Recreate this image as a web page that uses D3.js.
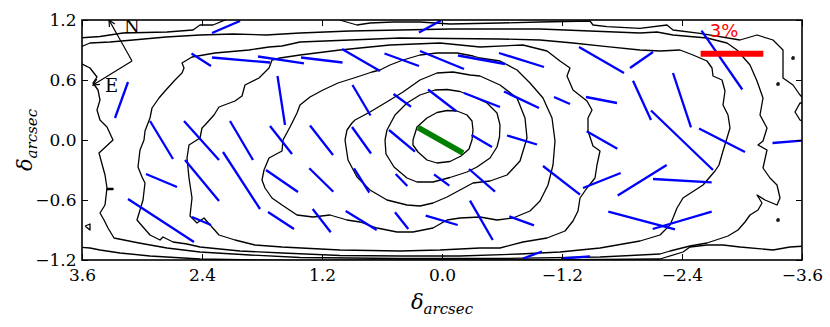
<!DOCTYPE html>
<html>
<head>
<meta charset="utf-8">
<script src="https://cdn.jsdelivr.net/npm/d3@7"></script>
<style>
	body { margin: 0; background: #fff; }
	text { font-family: "DejaVu Serif", serif; }
</style>
</head>
<body>
<div id="chart-area"></div>
<script>

// polarisation map: intensity contours + pol. vectors (offsets in arcsec)

let xTicks = [3.6, 2.4, 1.2, 0.0, -1.2, -2.4, -3.6];
let yTicks = [-1.2, -0.6, 0.0, 0.6, 1.2];

// contour lines, [x, y] in arcsec, listed inside -> out
let contour1 = [[0.29,0],[0.25,0.13],[0.15,0.22],[0.05,0.275],[-0.05,0.295],[-0.15,0.29],[-0.25,0.25],[-0.30,0.19],[-0.31,0.10],[-0.30,0],[-0.27,-0.09],[-0.19,-0.16],[-0.08,-0.215],[0.05,-0.23],[0.15,-0.20],[0.24,-0.12],[0.29,-0.05],[0.29,0]];

let contour2 = [[0.57,0],[0.55,0.10],[0.47,0.25],[0.35,0.37],[0.22,0.45],[0.07,0.50],[-0.05,0.505],[-0.18,0.485],[-0.31,0.435],[-0.45,0.37],[-0.55,0.27],[-0.58,0.15],[-0.575,0.03],[-0.55,-0.07],[-0.48,-0.18],[-0.35,-0.27],[-0.25,-0.32],[-0.08,-0.375],[0.09,-0.42],[0.25,-0.42],[0.35,-0.38],[0.48,-0.27],[0.56,-0.14],[0.57,0]];

let contour3 = [[0.97,0],[0.95,0.10],[0.90,0.17],[0.87,0.20],[0.72,0.28],[0.52,0.40],[0.39,0.48],[0.22,0.60],[0.05,0.67],[-0.11,0.68],[-0.28,0.65],[-0.38,0.64],[-0.58,0.55],[-0.75,0.42],[-0.83,0.22],[-0.85,0.02],[-0.78,-0.21],[-0.65,-0.35],[-0.48,-0.41],[-0.31,-0.43],[-0.18,-0.50],[-0.05,-0.57],[0.09,-0.63],[0.22,-0.66],[0.35,-0.65],[0.55,-0.60],[0.72,-0.50],[0.85,-0.37],[0.94,-0.20],[0.97,0]];

let contour4 = [[1.59,0],[1.52,0.13],[1.45,0.27],[1.42,0.35],[1.32,0.43],[1.19,0.50],[1.04,0.57],[0.85,0.63],[0.70,0.68],[0.62,0.70],[0.52,0.75],[0.39,0.80],[0.22,0.85],[0.05,0.87],[-0.15,0.87],[-0.31,0.84],[-0.38,0.82],[-0.58,0.79],[-0.75,0.70],[-0.88,0.57],[-1.01,0.42],[-1.10,0.22],[-1.13,-0.01],[-1.11,-0.25],[-1.06,-0.45],[-0.98,-0.61],[-0.88,-0.71],[-0.71,-0.78],[-0.55,-0.80],[-0.38,-0.77],[-0.18,-0.78],[-0.05,-0.80],[0.09,-0.88],[0.29,-0.92],[0.45,-0.92],[0.65,-0.88],[0.82,-0.82],[0.95,-0.80],[1.12,-0.75],[1.29,-0.77],[1.45,-0.75],[1.60,-0.65],[1.70,-0.58],[1.77,-0.48],[1.80,-0.40],[1.78,-0.30],[1.73,-0.18],[1.60,-0.11],[1.59,0]];

let contour5 = [[1.62,0.82],[1.42,0.85],[1.02,0.90],[0.52,0.95],[0.02,0.97],[-0.38,0.93],[-0.81,0.95],[-1.05,0.89],[-1.18,0.79],[-1.28,0.72],[-1.25,0.64],[-1.31,0.50],[-1.45,0.39],[-1.50,0.30],[-1.46,0.22],[-1.46,0.09],[-1.51,-0.06],[-1.58,-0.11],[-1.55,-0.25],[-1.53,-0.38],[-1.45,-0.48],[-1.38,-0.58],[-1.36,-0.71],[-1.31,-0.81],[-1.23,-0.91],[-1.05,-0.98],[-0.81,-1.02],[-0.58,-1.08],[-0.38,-1.08],[0.02,-1.10],[0.42,-1.11],[1.02,-1.10],[1.60,-1.07],[1.87,-1.05],[2.07,-1.00],[2.23,-0.95],[2.38,-0.78],[2.45,-0.83],[2.52,-0.76],[2.50,-0.58],[2.53,-0.38],[2.55,-0.18],[2.53,-0.05],[2.42,0.02],[2.40,0.12],[2.37,0.15],[2.28,0.25],[2.23,0.33],[2.07,0.39],[2.00,0.44],[1.97,0.55],[1.83,0.62],[1.73,0.72],[1.70,0.80],[1.62,0.82]];

let contour6 = [[1.60,0.94],[1.73,0.93],[1.93,0.90],[2.27,0.87],[2.50,0.83],[2.60,0.77],[2.58,0.72],[2.60,0.67],[2.67,0.60],[2.77,0.49],[2.83,0.42],[2.90,0.32],[2.92,0.22],[2.97,0.09],[2.98,0],[3.02,-0.10],[3.04,-0.27],[3.00,-0.37],[2.97,-0.43],[2.99,-0.60],[3.02,-0.70],[3.05,-0.80],[2.99,-0.87],[2.92,-0.95],[2.82,-1.00],[2.79,-0.97],[2.69,-1.02],[2.55,-1.04],[2.42,-1.07],[2.02,-1.11],[1.60,-1.13],[1.02,-1.155],[0.42,-1.16],[-0.18,-1.16],[-0.78,-1.14],[-1.18,-1.12],[-1.58,-1.08],[-1.98,-1.01],[-2.18,-0.95],[-2.28,-0.85],[-2.31,-0.78],[-2.35,-0.68],[-2.41,-0.58],[-2.61,-0.45],[-2.73,-0.31],[-2.77,-0.25],[-2.81,-0.11],[-2.85,0.02],[-2.88,0.12],[-2.86,0.25],[-2.81,0.35],[-2.83,0.49],[-2.80,0.60],[-2.71,0.64],[-2.70,0.72],[-2.65,0.79],[-2.51,0.85],[-2.38,0.90],[-2.18,0.89],[-1.98,0.90],[-1.65,0.933],[-1.31,0.97],[-0.98,1.00],[-0.58,1.01],[-0.08,1.015],[0.42,1.02],[0.92,1.00],[1.42,0.98],[1.60,0.94]];

let contour7 = [[3.64,0.92],[3.52,0.97],[3.32,0.98],[3.09,1.00],[2.76,1.03],[2.42,1.05],[2.09,1.06],[1.76,1.05],[1.42,1.07],[0.92,1.09],[0.42,1.10],[-0.08,1.11],[-0.58,1.11],[-0.98,1.11],[-1.48,1.09],[-1.98,1.07],[-2.15,1.08],[-2.31,1.05],[-2.65,1.02],[-2.85,0.97],[-2.95,0.90],[-3.08,0.75],[-3.15,0.59],[-3.21,0.42],[-3.18,0.25],[-3.25,0.12],[-3.21,-0.01],[-3.16,-0.05],[-3.25,-0.10],[-3.21,-0.28],[-3.28,-0.38],[-3.35,-0.45],[-3.38,-0.58],[-3.35,-0.65],[-3.23,-0.60],[-3.15,-0.55],[-3.20,-0.63],[-3.16,-0.70],[-3.08,-0.75],[-3.03,-0.82],[-2.96,-0.90],[-2.86,-0.96],[-2.65,-1.03],[-2.48,-1.06],[-2.28,-1.11],[-2.18,-1.14],[-1.58,-1.17],[-0.58,-1.185],[0.42,-1.185],[1.42,-1.175],[1.92,-1.15],[2.42,-1.12],[2.75,-1.08],[3.03,-1.03],[3.28,-0.98],[3.34,-0.88],[3.38,-0.80],[3.42,-0.73],[3.37,-0.65],[3.35,-0.48],[3.37,-0.35],[3.43,-0.13],[3.29,0],[3.35,0.13],[3.42,0.20],[3.45,0.30],[3.42,0.40],[3.44,0.50],[3.49,0.57],[3.45,0.63],[3.52,0.72],[3.64,0.78]];

let contour8top = [[3.64,1.02],[3.42,1.035],[3.19,1.07],[2.75,1.08],[2.49,1.10],[2.42,1.15],[2.29,1.15],[2.12,1.22]];
let contour8topRight = [[1.07,1.22],[0.99,1.19],[0.85,1.15],[0.72,1.17],[0.49,1.18],[0.22,1.18],[-0.08,1.16],[-0.58,1.17],[-0.98,1.18],[-1.48,1.19],[-1.51,1.15],[-1.65,1.133],[-1.98,1.117],[-2.25,1.15],[-2.31,1.10],[-2.58,1.067],[-2.98,1.00],[-3.15,1.05],[-3.31,1.00],[-3.41,0.90],[-3.41,0.62],[-3.51,0.55],[-3.58,0.45],[-3.64,0.39]];
let contour8bottom = [[3.64,-1.07],[3.52,-1.08],[3.42,-1.10],[3.22,-1.13],[2.92,-1.16],[2.42,-1.19],[1.42,-1.205],[0.42,-1.20],[-0.58,-1.20],[-1.58,-1.195],[-2.18,-1.19],[-2.41,-1.12],[-2.48,-1.07],[-2.65,-1.05],[-2.81,-1.05],[-2.98,-1.07],[-3.31,-1.10],[-3.48,-1.07],[-3.64,-1.06]];
let contour8right = [[-3.64,0.37],[-3.58,0.37],[-3.53,0.28],[-3.58,0.20],[-3.64,0.17]];

// tiny isolated contours (specks)
let specks = [
	[[3.57,-0.86],[3.52,-0.84],[3.52,-0.90],[3.57,-0.86]],
	[[3.35,-0.485],[3.29,-0.485],[3.29,-0.495],[3.35,-0.495],[3.35,-0.485]],
	[[-3.50,0.83],[-3.52,0.83],[-3.52,0.81],[-3.50,0.81],[-3.50,0.83]],
	[[-3.35,0.57],[-3.37,0.57],[-3.37,0.55],[-3.35,0.55],[-3.35,0.57]],
	[[-3.35,-0.79],[-3.37,-0.79],[-3.37,-0.81],[-3.35,-0.81],[-3.35,-0.79]]
];

let contourLines = [contour1, contour2, contour3, contour4, contour5, contour6, contour7,
	contour8top, contour8topRight, contour8bottom, contour8right].concat(specks);

// polarisation vectors, [x1, y1, x2, y2] in arcsec
let polVectors = [
	[2.30,1.07,2.02,1.19], [2.505,0.865,2.31,0.74], [2.30,0.825,1.72,0.775], [1.84,0.835,1.38,0.767],
	[3.14,0.58,3.27,0.22], [1.645,0.64,1.57,0.15], [2.92,0.19,2.69,-0.19], [2.58,0.19,2.23,-0.20],
	[2.12,0.19,1.89,-0.20], [1.72,0.14,1.50,-0.14], [2.96,-0.34,2.65,-0.47], [2.57,-0.20,2.23,-0.61],
	[2.19,-0.12,1.82,-0.69], [3.14,-0.59,2.48,-1.02], [2.50,-0.77,2.31,-0.85], [1.76,-0.30,1.44,-0.52],
	[1.74,-0.72,1.48,-0.89], [1.41,0.825,0.995,0.775], [1.00,0.91,0.62,0.69], [0.575,0.865,0.23,0.74],
	[0.22,0.89,-0.22,0.71], [-0.16,0.845,-0.63,0.76], [-0.57,0.87,-1.02,0.73], [0.23,1.075,0.01,1.195],
	[0.895,0.55,0.715,0.245], [0.485,0.46,0.31,0.333], [0.14,0.505,-0.14,0.29], [-0.22,0.47,-0.58,0.33],
	[-0.62,0.485,-0.97,0.32], [1.32,0.145,1.09,-0.15], [0.90,0.13,0.71,-0.135], [0.53,0.10,0.27,-0.117],
	[-0.295,0.05,-0.50,-0.07], [-0.65,0.045,-0.95,-0.045], [-1.12,0.43,-1.28,0.36], [-1.44,0.43,-1.75,0.37],
	[-1.37,0.93,-1.82,0.67], [-1.88,0.72,-2.11,0.88], [-1.91,0.593,-2.09,0.20], [-2.09,0.295,-2.71,-0.30],
	[-2.31,0.67,-2.49,0.127], [-2.57,0.115,-3.03,-0.12], [-3.305,-0.03,-3.60,-0.007], [-2.595,1.093,-3.003,0.505],
	[-1.447,0.087,-1.753,-0.087], [-1.01,-0.26,-1.38,-0.547], [-1.41,-0.48,-1.787,-0.33], [-1.757,-0.555,-2.247,-0.25],
	[-2.11,-0.39,-2.697,-0.423], [-1.663,-0.717,-2.33,-0.893], [-2.107,-0.89,-2.697,-0.717], [-0.673,-0.763,-0.92,-0.853],
	[-0.28,-0.607,-0.507,-1.00], [-0.27,-0.29,-0.53,-0.517], [1.327,-0.283,1.087,-0.517], [0.88,-0.283,0.727,-0.527],
	[0.463,-0.34,0.347,-0.46], [0.08,-0.343,-0.073,-0.457], [1.293,-0.69,1.113,-0.923], [0.963,-0.71,0.653,-0.90],
	[0.47,-0.723,0.337,-0.89], [0.163,-0.757,-0.157,-0.85], [-0.81,-1.185,-1.00,-1.115], [-1.19,-1.185,-1.48,-1.163]
];

// integrated (nuclear) vector
let centralVector = [0.24,0.125,-0.21,-0.13];

// 3% scale bar, centre + half length in arcsec
let scaleBar = {x: -2.9, y: 0.863, half: 0.3135, label: "3%"};

// compass: origin, N tip, E tip
let compass = {origin: [3.10,0.79], north: [3.33,1.20], east: [3.49,0.55]};

let margin = {top: 20, right: 28, bottom: 67, left: 82};
let width = 830 - margin.left - margin.right;
let height = 327 - margin.top - margin.bottom;

let svg = d3.select("#chart-area").append("svg")
		.attr("width", width + margin.left + margin.right)
		.attr("height", height + margin.top + margin.bottom)
	.append("g")
		.attr("transform", "translate(" + margin.left + "," + margin.top + ")");

let xscale = d3.scaleLinear().domain([3.6, -3.6]).range([0, width]);
let yscale = d3.scaleLinear().domain([-1.2, 1.2]).range([height, 0]);

svg.append("clipPath").attr("id", "plotclip")
	.append("rect").attr("width", width).attr("height", height);

let plot = svg.append("g").attr("clip-path", "url(#plotclip)");

let line = d3.line().x(d => xscale(d[0])).y(d => yscale(d[1]));

plot.selectAll(".contour")
	.data(contourLines)
	.enter().append("path")
	.attr("class", "contour")
	.attr("d", line)
	.attr("fill", "none")
	.attr("stroke", "black")
	.attr("stroke-width", 1.3)
	.attr("stroke-linejoin", "round");

plot.selectAll(".vec")
	.data(polVectors)
	.enter().append("line")
	.attr("class", "vec")
	.attr("x1", d => xscale(d[0]))
	.attr("y1", d => yscale(d[1]))
	.attr("x2", d => xscale(d[2]))
	.attr("y2", d => yscale(d[3]))
	.attr("stroke", "#0000ff")
	.attr("stroke-width", 2.3);

plot.append("line")
	.attr("x1", xscale(centralVector[0]))
	.attr("y1", yscale(centralVector[1]))
	.attr("x2", xscale(centralVector[2]))
	.attr("y2", yscale(centralVector[3]))
	.attr("stroke", "#007f00")
	.attr("stroke-width", 5.5);

// scale bar
plot.append("line")
	.attr("x1", xscale(scaleBar.x + scaleBar.half))
	.attr("x2", xscale(scaleBar.x - scaleBar.half))
	.attr("y1", yscale(scaleBar.y))
	.attr("y2", yscale(scaleBar.y))
	.attr("stroke", "red")
	.attr("stroke-width", 6);

svg.append("text")
	.attr("x", xscale(scaleBar.x) - 8)
	.attr("y", yscale(scaleBar.y) - 16.5)
	.attr("text-anchor", "middle")
	.attr("fill", "red")
	.style("font-family", "DejaVu Sans, sans-serif")
	.style("font-size", "18px")
	.text(scaleBar.label);

// compass arrows
let arrowHead = function(from, to) {
	let x0 = xscale(from[0]), y0 = yscale(from[1]);
	let x1 = xscale(to[0]), y1 = yscale(to[1]);
	let a = Math.atan2(y1 - y0, x1 - x0);
	let s = 7, w = 0.45;
	return "M" + (x1 - s * Math.cos(a - w)) + "," + (y1 - s * Math.sin(a - w)) +
		"L" + x1 + "," + y1 +
		"L" + (x1 - s * Math.cos(a + w)) + "," + (y1 - s * Math.sin(a + w));
};

[compass.north, compass.east].forEach(function(tip) {
	plot.append("line")
		.attr("x1", xscale(compass.origin[0])).attr("y1", yscale(compass.origin[1]))
		.attr("x2", xscale(tip[0])).attr("y2", yscale(tip[1]))
		.attr("stroke", "black").attr("stroke-width", 1.2);
	plot.append("path")
		.attr("d", arrowHead(compass.origin, tip))
		.attr("fill", "none").attr("stroke", "black").attr("stroke-width", 1.2);
});

plot.append("text")
	.attr("x", xscale(compass.north[0]) + 15)
	.attr("y", yscale(compass.north[1]) + 13)
	.style("font-size", "18px")
	.text("N");

plot.append("text")
	.attr("x", xscale(compass.east[0]) + 12)
	.attr("y", yscale(compass.east[1]) + 7)
	.style("font-size", "18px")
	.text("E");

// frame + inward ticks on all four sides
let xAxisBottom = d3.axisBottom(xscale).tickValues(xTicks).tickFormat(d3.format(".1f")).tickSizeInner(-6).tickSizeOuter(0).tickPadding(8.5);
let xAxisTop = d3.axisTop(xscale).tickValues(xTicks).tickFormat("").tickSizeInner(-6).tickSizeOuter(0);
let yAxisLeft = d3.axisLeft(yscale).tickValues(yTicks).tickFormat(d3.format(".1f")).tickSizeInner(-6).tickSizeOuter(0).tickPadding(5.5);
let yAxisRight = d3.axisRight(yscale).tickValues(yTicks).tickFormat("").tickSizeInner(-6).tickSizeOuter(0);

let axisStyle = function(g) {
	g.select(".domain").remove();
	g.selectAll("line").attr("stroke", "black").attr("stroke-width", 1);
	g.selectAll("text").style("font-family", "DejaVu Serif, serif").style("font-size", "17px").attr("fill", "black");
};

svg.append("g").attr("transform", "translate(0," + height + ")").call(xAxisBottom).call(axisStyle);
svg.append("g").call(xAxisTop).call(axisStyle);
svg.append("g").call(yAxisLeft).call(axisStyle);
svg.append("g").attr("transform", "translate(" + width + ",0)").call(yAxisRight).call(axisStyle);

svg.append("rect")
	.attr("width", width).attr("height", height)
	.attr("fill", "none").attr("stroke", "black").attr("stroke-width", 1.6);

// axis labels
let xLabel = svg.append("text")
	.attr("x", width / 2)
	.attr("y", height + 49)
	.attr("text-anchor", "middle")
	.style("font-style", "italic");
xLabel.append("tspan").style("font-size", "21px").text("δ");
xLabel.append("tspan").attr("dy", 5).style("font-size", "15px").text("arcsec");

let yLabel = svg.append("text")
	.attr("transform", "translate(" + (-50) + "," + (height / 2) + ") rotate(-90)")
	.attr("text-anchor", "middle")
	.style("font-style", "italic");
yLabel.append("tspan").style("font-size", "21px").text("δ");
yLabel.append("tspan").attr("dy", 5).style("font-size", "15px").text("arcsec");

</script>
</body>
</html>
